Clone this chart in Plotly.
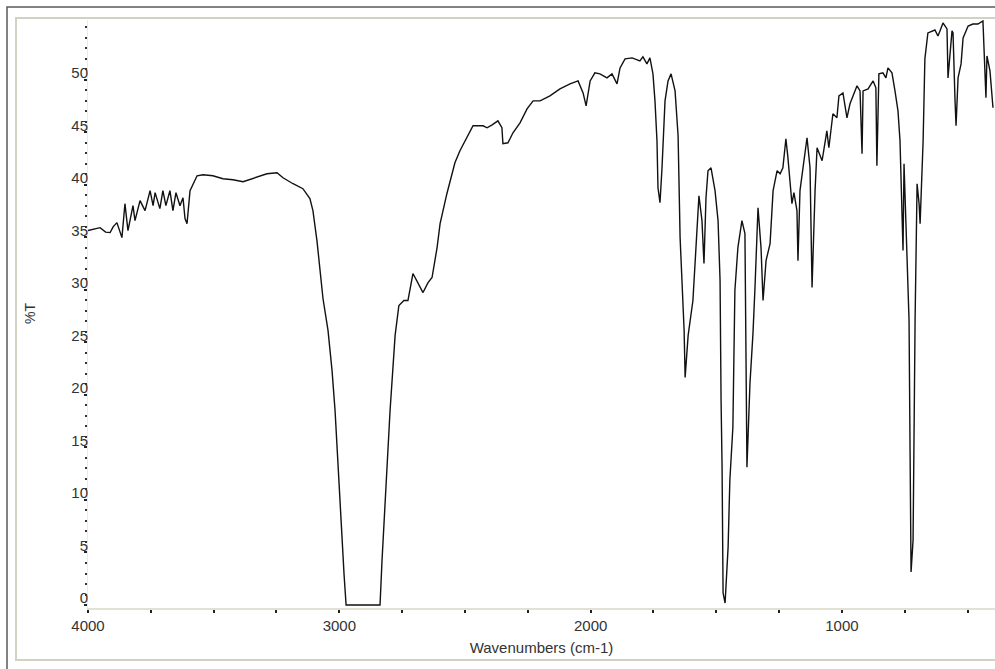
import plotly.graph_objects as go

# IR spectrum: wavenumber (cm-1) vs percent transmittance
wavenumbers = [
    4000, 3952, 3930, 3912, 3900, 3885, 3865, 3853, 3841, 3821, 3813, 3793, 3773,
    3753, 3741, 3733, 3714, 3702, 3690, 3674, 3662, 3650, 3634, 3622, 3614, 3606,
    3594, 3582, 3566, 3542, 3503, 3463, 3423, 3383, 3343,
    3288, 3248, 3224, 3184, 3145, 3117, 3105, 3089, 3077, 3065, 3045, 3029, 3017,
    3005, 2993, 2981, 2973, 2900, 2838, 2830, 2818, 2798, 2778, 2763, 2743, 2727,
    2707, 2687, 2667, 2647, 2631, 2611, 2599, 2572, 2552, 2540, 2520, 2492, 2468,
    2428, 2412, 2392, 2369, 2353, 2349, 2329, 2309, 2281, 2253, 2229, 2201, 2162,
    2122, 2082, 2050, 2030, 2018, 2002, 1983, 1963, 1935, 1915, 1895, 1883, 1863,
    1835, 1804, 1792, 1776, 1764, 1752, 1744, 1736, 1732, 1724, 1716, 1704, 1692,
    1680, 1664, 1652, 1644, 1636, 1628, 1624, 1612, 1593, 1577, 1569, 1557, 1549,
    1541, 1533, 1521, 1505, 1493, 1485, 1481, 1477, 1473, 1465, 1453, 1446, 1434,
    1426, 1414, 1398, 1386, 1382, 1378, 1366, 1354, 1346, 1334, 1322, 1314, 1302,
    1286, 1274, 1258, 1246, 1235, 1223, 1215, 1199, 1191, 1179, 1175, 1167, 1155,
    1139, 1127, 1119, 1107, 1099, 1079, 1060, 1052, 1040, 1036, 1020, 1012, 996,
    980, 968, 940, 928, 920, 916, 896, 876, 865, 861, 853, 837, 825, 817, 801,
    789, 777, 769, 761, 757, 753, 745, 737, 733, 729, 725, 717, 713, 709, 701,
    693, 689, 677, 670, 658, 630, 618, 610, 598, 582, 578, 562, 558, 550, 546,
    538, 526, 518, 498, 479, 459, 439, 435, 427, 423, 411, 399,
]
transmittance = [
    35.65, 35.93, 35.50, 35.46, 36.00, 36.41, 34.98, 38.21, 35.65, 38.02, 36.60, 38.50, 37.55,
    39.45, 38.02, 39.26, 37.74, 39.45, 38.02, 39.45, 37.55, 39.26, 38.02, 38.78, 36.79, 36.31,
    39.45, 40.11, 40.87, 40.97, 40.87, 40.59, 40.49, 40.30, 40.59,
    41.06, 41.16, 40.68, 40.11, 39.64, 38.70, 37.55, 34.70, 31.84, 29.18, 26.14, 22.34, 18.54,
    13.78, 8.08, 2.85, 0.00, 0.00, 0.00, 4.28, 9.98, 18.54, 25.67, 28.52, 28.99, 28.99,
    31.56, 30.70, 29.75, 30.70, 31.18, 34.03, 36.31, 39.16, 41.16, 42.11, 43.25, 44.49, 45.63,
    45.63, 45.44, 45.72, 46.10, 45.44, 43.92, 44.01, 44.96, 45.91, 47.24, 48.00, 48.00, 48.48,
    49.14, 49.62, 49.90, 48.76, 47.53, 49.90, 50.67, 50.57, 50.19, 50.57, 49.62, 51.14, 52.00,
    52.09, 51.81, 52.19, 51.52, 52.09, 50.57, 48.00, 44.20, 39.73, 38.31, 41.63, 48.00, 49.90,
    50.57, 48.95, 44.68, 34.98, 31.08, 26.14, 21.67, 25.67, 28.99, 35.93, 38.97, 36.60, 32.51,
    38.78, 41.35, 41.63, 39.45, 36.60, 30.89, 19.49, 13.12, 1.14, 0.19, 5.51, 11.88, 16.92,
    29.94, 34.03, 36.60, 35.36, 25.86, 13.12, 21.10, 25.86, 30.23, 37.83, 34.03, 28.99, 32.79,
    34.41, 39.45, 41.35, 41.06, 41.63, 44.39, 42.59, 38.21, 39.26, 37.55, 32.79, 39.45, 41.63,
    44.49, 41.63, 30.23, 39.45, 43.54, 42.30, 45.15, 43.54, 45.82, 46.77, 46.39, 48.48, 48.76,
    46.39, 47.72, 49.43, 48.95, 42.97, 48.95, 49.14, 49.90, 49.24, 41.83, 50.57, 50.67, 50.19,
    51.14, 50.67, 48.95, 47.05, 44.20, 37.83, 33.75, 42.02, 35.65, 30.89, 27.09, 14.73, 3.14,
    6.18, 17.59, 27.09, 40.11, 38.21, 36.31, 44.20, 52.00, 54.47, 54.75, 54.18, 54.66, 55.42,
    54.85, 50.19, 54.66, 54.47, 48.00, 45.63, 50.19, 51.52, 53.99, 55.13, 55.32, 55.32, 55.61,
    52.76, 48.29, 52.28, 50.86, 47.34,
]

x_major = [4000, 3000, 2000, 1000]
y_major = list(range(0, 51, 5))

W, H = 995, 669
L, R, T, B = 88, 0, 20, 61
pw, ph = W - L - R, H - T - B


def px_x(p):
    return (p - L) / pw


def px_y(p):
    return (H - B - p) / ph


fig = go.Figure()
fig.add_trace(go.Scatter(
    x=wavenumbers, y=transmittance, mode="lines",
    line=dict(color="#111111", width=1.4),
    hoverinfo="x+y", showlegend=False,
))

tick_font = dict(family="Liberation Sans, Arial, sans-serif", size=15, color="#333333")

fig.update_layout(
    width=W, height=H,
    margin=dict(l=L, r=R, t=T, b=B),
    paper_bgcolor="white",
    plot_bgcolor="white",
    font=tick_font,
    shapes=[
        # outer frame
        dict(type="rect", xref="paper", yref="paper", layer="below",
             x0=px_x(7), x1=px_x(1010), y0=px_y(690), y1=px_y(7),
             line=dict(color="#5a5a5a", width=1.5), fillcolor="white"),
        # inner panel
        dict(type="rect", xref="paper", yref="paper", layer="below",
             x0=px_x(16), x1=px_x(1010), y0=px_y(660), y1=px_y(18),
             line=dict(color="#d2d2c2", width=2), fillcolor="white"),
    ],
    annotations=[
        dict(text="%T", xref="paper", yref="paper", x=px_x(30), y=0.5,
             textangle=-90, showarrow=False, font=dict(size=14, color="#333333"),
             xanchor="center", yanchor="middle"),
    ],
)

fig.update_xaxes(
    range=[4000, 391],
    tickvals=x_major, ticktext=[str(v) for v in x_major],
    ticks="outside", ticklen=3, tickwidth=1.5, tickcolor="#222222",
    minor=dict(dtick=250, tick0=0, ticks="outside", ticklen=3, tickwidth=1.5,
               tickcolor="#222222", showgrid=False),
    showline=True, linecolor="#e2e2d4", linewidth=2,
    showgrid=False, zeroline=False,
    tickfont=tick_font,
    title=dict(text="Wavenumbers (cm-1)", font=tick_font, standoff=9),
)

fig.update_yaxes(
    range=[-0.285, 55.7],
    tickvals=y_major, ticktext=[str(v) for v in y_major],
    ticks="outside", ticklen=3, tickwidth=1.5, tickcolor="#222222",
    minor=dict(dtick=1, tick0=0, ticks="outside", ticklen=2, tickwidth=1.5,
               tickcolor="#333333", showgrid=False),
    showline=True, linecolor="#ececE0", linewidth=1,
    showgrid=False, zeroline=False,
    tickfont=tick_font,
    ticklabelstandoff=-7,
    ticklabelshift=-7,
)

fig.write_html("out.html")
